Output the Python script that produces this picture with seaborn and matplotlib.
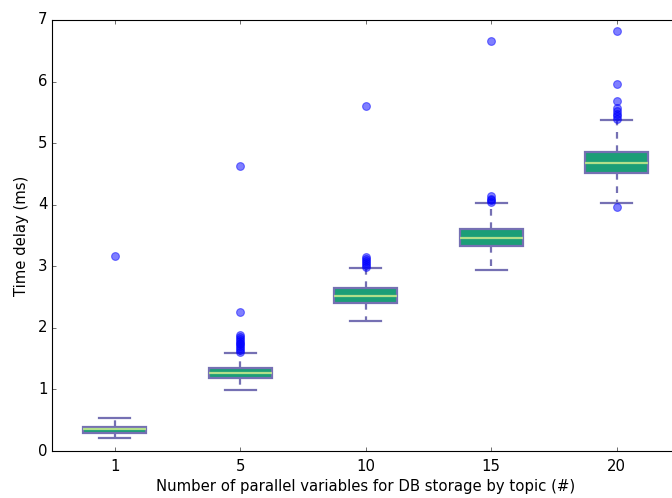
import numpy as np
import pandas as pd
import matplotlib
matplotlib.use("Agg")
import matplotlib.pyplot as plt
import seaborn as sns

# values (ms)
topics = ["1", "5", "10", "15", "20"]
whisker_lo = [0.206, 0.996, 2.116, 2.935, 4.028]
q1 = [0.287, 1.190, 2.410, 3.330, 4.510]
median = [0.357, 1.272, 2.517, 3.455, 4.683]
q3 = [0.395, 1.353, 2.640, 3.610, 4.860]
whisker_hi = [0.540, 1.595, 2.980, 4.020, 5.375]
fliers = [
    [3.17],
    [1.61, 1.64, 1.67, 1.70, 1.73, 1.76, 1.79, 1.82, 1.85, 1.88, 2.25, 4.63],
    [2.99, 3.02, 3.05, 3.08, 3.12, 3.15, 5.60],
    [4.04, 4.07, 4.10, 4.14, 6.66],
    [3.97, 5.40, 5.44, 5.48, 5.52, 5.57, 5.68, 5.96, 6.82],
]


def sample(lo, a, m, b, hi, out, k=20):
    # 4k+1 points so that the quartiles land exactly on a, m, b
    low = sorted(v for v in out if v < a)
    high = sorted(v for v in out if v > b)
    vals = low + [lo] + [a] * (k - 1 - len(low))
    vals += [a] + [m] * k + [b] * k
    vals += [b] * (k - 1 - len(high)) + [hi] + high
    return vals


rows = []
for i, t in enumerate(topics):
    for v in sample(whisker_lo[i], q1[i], median[i], q3[i], whisker_hi[i], fliers[i]):
        rows.append((t, v))
df = pd.DataFrame(rows, columns=["topic", "delay"])

plt.style.use("classic")
plt.rcParams["font.size"] = 13.4
fig = plt.figure(figsize=(8.4, 6.225), dpi=80, facecolor="white")
ax = fig.add_axes([52 / 672, 47 / 498, 627.5 / 672, 431 / 498])

sns.boxplot(data=df, x="topic", y="delay", order=topics, ax=ax,
            width=0.5, saturation=1, color="#1b9e77", linecolor="#7570b3",
            linewidth=2,
            boxprops=dict(facecolor="#1b9e77", edgecolor="#7570b3"),
            whiskerprops=dict(color="#7570b3", linestyle="--"),
            capprops=dict(color="#7570b3"),
            medianprops=dict(color="#b2df8a"),
            flierprops=dict(marker="o", markerfacecolor="blue",
                            markeredgecolor="blue", markersize=7, alpha=0.5))

ax.set_ylim(0, 7)
ax.set_xlim(-0.5, 4.5)
ax.set_yticks(range(0, 8))
ax.tick_params(axis="x", pad=7)
ax.set_xlabel("Number of parallel variables for DB storage by topic (#)")
ax.set_ylabel("Time delay (ms)", labelpad=8)
ax.grid(False)

fig.savefig("out.png", dpi=80, facecolor="white")
